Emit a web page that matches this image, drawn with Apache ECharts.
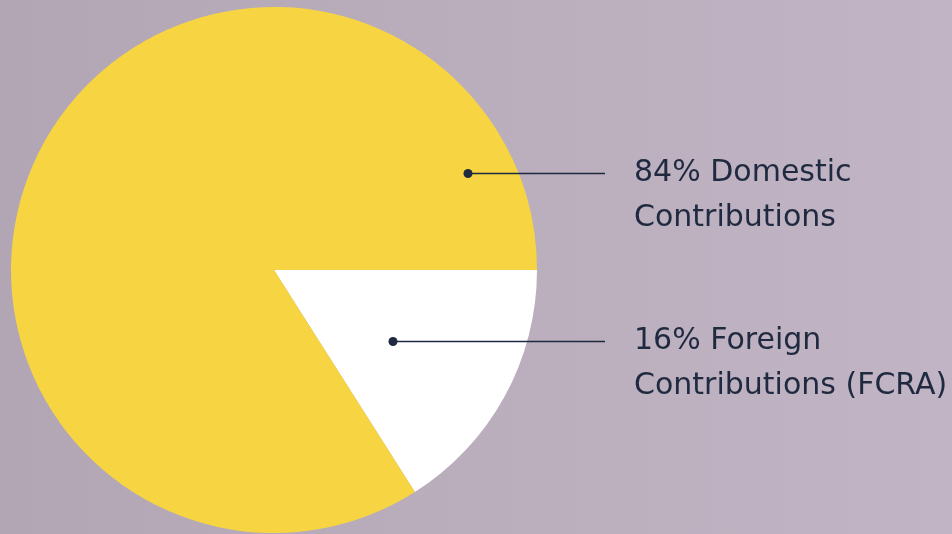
<!DOCTYPE html>
<html lang="en">
<head>
    <meta charset="utf-8">
    <title>Contributions</title>
    <script src="https://cdn.jsdelivr.net/npm/echarts@6/dist/echarts.min.js"></script>
    <style>
        html, body { margin: 0; padding: 0; }
        #chart { width: 952px; height: 534px; }
    </style>
</head>
<body>
    <div id="chart"></div>
    <script>
        // data
        var categories = ['Foreign Contributions (FCRA)', 'Domestic Contributions'];
        var shares = [16, 84];
        var labelLines = [['16% Foreign', 'Contributions (FCRA)'], ['84% Domestic', 'Contributions']];

        // layout: where each label's dot sits and where its text starts
        var dots = [[393, 341], [468, 173]];
        var lineEndX = 605;
        var textX = 634;
        var ink = '#1f2a40';

        var chart = echarts.init(document.getElementById('chart'));

        var option = {
            backgroundColor: new echarts.graphic.LinearGradient(0, 0, 1, 0, [
                { offset: 0, color: '#b3a6b4' },
                { offset: 1, color: '#c1b4c4' }
            ]),
            series: [{
                type: 'pie',
                center: [274, 270],
                radius: 263,
                startAngle: 0,
                clockwise: true,
                silent: true,
                avoidLabelOverlap: false,
                data: categories.map(function (c, i) {
                    return {
                        name: c,
                        value: shares[i],
                        itemStyle: { color: i === 0 ? '#ffffff' : '#f7d542' }
                    };
                }),
                label: {
                    show: true,
                    position: 'outside',
                    formatter: function (p) {
                        return labelLines[p.dataIndex].join('\n');
                    },
                    color: ink,
                    fontFamily: 'DejaVu Sans',
                    fontSize: 30,
                    lineHeight: 45,
                    overflow: 'none',
                    width: 400,
                    align: 'left'
                },
                labelLine: { show: false },
                labelLayout: function (p) {
                    var d = dots[p.dataIndex];
                    return {
                        x: textX,
                        y: d[1] - 22,
                        align: 'left',
                        verticalAlign: 'top',
                        hideOverlap: false
                    };
                }
            }],
            graphic: {
                elements: [].concat.apply([], dots.map(function (d) {
                    return [{
                        type: 'line',
                        z: 100,
                        zlevel: 1,
                        shape: { x1: d[0], y1: d[1] + 0.5, x2: lineEndX, y2: d[1] + 0.5 },
                        style: { stroke: ink, lineWidth: 1.3 }
                    }, {
                        type: 'circle',
                        z: 101,
                        zlevel: 1,
                        shape: { cx: d[0], cy: d[1] + 0.5, r: 4.5 },
                        style: { fill: ink }
                    }];
                }))
            }
        };

        chart.setOption(option);
    </script>
</body>
</html>
